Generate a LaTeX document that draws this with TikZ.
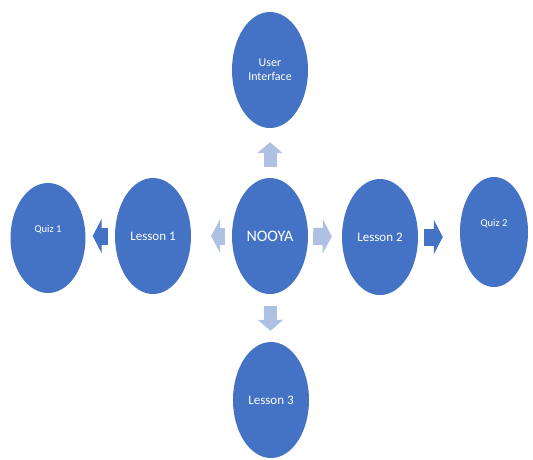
\documentclass[tikz,border=0pt]{standalone}
\usepackage{fontspec}
\setmainfont{Carlito}
\usepackage{tikz}
\usetikzlibrary{arrows.meta,shapes.geometric}
\definecolor{NooyaBlue}{RGB}{68,114,196}
\definecolor{NooyaPale}{RGB}{174,192,227}

\begin{document}
\begin{tikzpicture}[x=1pt,y=-1pt,
    bubble/.style={ellipse,fill=NooyaBlue,text=white,inner sep=0pt,minimum width=76pt,minimum height=116pt,align=center,font=\fontsize{13}{15}\selectfont},
    quiz/.style={bubble,minimum height=110pt,text height=6pt,text depth=18pt,font=\fontsize{10.5}{12}\selectfont},
    hflow/.style={line width=17pt,-{Triangle[width=34pt,length=9pt]}},
    vflow/.style={line width=13pt,-{Triangle[width=25pt,length=11pt]}}
  ]
    \useasboundingbox (0,0) rectangle (533,459);

    \node[bubble,font=\fontsize{16}{18}\selectfont] (nooya) at (270,236) {NOOYA};
    \node[bubble,font=\fontsize{12}{14}\selectfont] (ui) at (270,70) {User\\Interface};
    \node[bubble] (lesson1) at (153,236) {Lesson 1};
    \node[bubble] (lesson2) at (380,237) {Lesson 2};
    \node[bubble] (lesson3) at (271,400) {Lesson 3};
    \node[quiz,minimum width=75pt] (quiz1) at (48,238) {Quiz 1};
    \node[quiz,minimum width=68pt] (quiz2) at (494,232) {Quiz 2};

    \draw[vflow,NooyaPale,shorten <=11pt,shorten >=14pt] (nooya) -- (ui);
    \draw[vflow,NooyaPale,shorten <=12pt,shorten >=11pt] (nooya) -- (lesson3);
    \draw[hflow,NooyaPale,shorten <=7pt,shorten >=20pt] (nooya) -- (lesson1);
    \draw[hflow,NooyaPale,shorten <=5pt,shorten >=10pt] (nooya) -- (lesson2);
    \draw[hflow,NooyaBlue,shorten <=7pt,shorten >=7pt] (lesson1.west) -- (lesson1.west -| quiz1.east);
    \draw[hflow,NooyaBlue,shorten <=6pt,shorten >=17pt] (lesson2.east) -- (lesson2.east -| quiz2.west);
  \end{tikzpicture}
\end{document}
